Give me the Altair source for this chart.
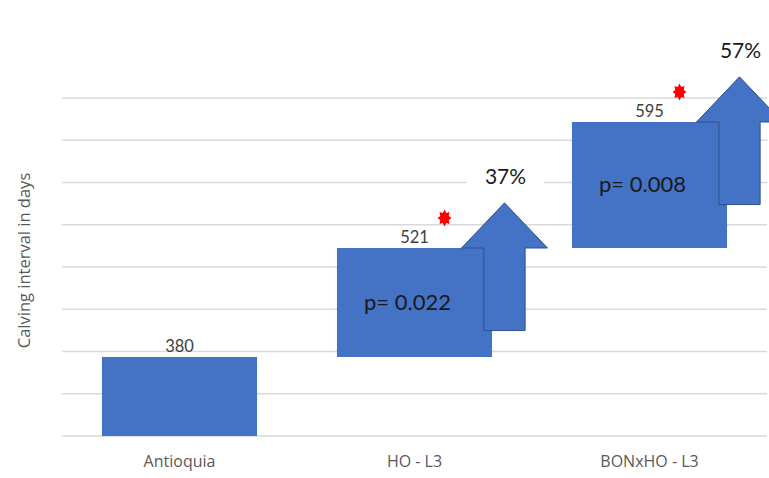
import math

import altair as alt
import pandas as pd

# Calving interval (days) by group
categories = ["Antioquia", "HO - L3", "BONxHO - L3"]
interval_days = [380, 521, 595]
p_values = ["", "p= 0.022", "p= 0.008"]
significant = [False, True, True]

BLUE = "#4472C4"
BLUE_EDGE = "#2F528F"
GRID = "#D9D9D9"

# Waterfall steps: each group's box spans from the previous group's interval
starts = [0] + interval_days[:-1]
base_days = interval_days[0]
increase = [round((v / base_days - 1) * 100) for v in interval_days]

df = pd.DataFrame({
    "category": categories,
    "days": interval_days,
    "start": starts,
    "p": p_values,
    "significant": significant,
    "increase": [f"{i}%" if i > 0 else "" for i in increase],
})
df["mid"] = (df["start"] + df["days"]) / 2
steps = df[df["increase"] != ""]
stars = df[df["significant"]]

grid_df = pd.DataFrame({"level": list(range(9))})

# Piecewise-linear value axis (stretched between groups)
y_scale = alt.Scale(domain=[0] + interval_days, range=[338, 259, 150, 24],
                    nice=False, zero=False)

x_enc = alt.X(
    "category:N", sort=categories,
    scale=alt.Scale(paddingInner=0.34, paddingOuter=0.17),
    axis=alt.Axis(title=None, labelAngle=0, labelFont="Open Sans",
                  labelFontSize=16, labelColor="#595959", labelPadding=17,
                  ticks=False, domain=False, grid=False),
)


def star_path(points=8, inner=0.66, stretch=1.2):
    parts = []
    for k in range(points * 2):
        r = 1.0 if k % 2 == 0 else inner
        a = math.pi * k / points - math.pi / 2
        parts.append(f"{r * math.cos(a):.3f},{r * math.sin(a) * stretch:.3f}")
    return "M" + " L".join(parts) + " Z"


# Block arrow: head base at the anchor point, shaft hanging below it
ARROW = "M0,-1.05 L1,0 L0.48,0 L0.48,1.92 L-0.48,1.92 L-0.48,0 L-1,0 Z"
LABEL_BOX = "M-1,-0.3 L1,-0.3 L1,0.3 L-1,0.3 Z"

grid = alt.Chart(grid_df).mark_rule(color=GRID, strokeWidth=1.5).encode(
    y=alt.Y("level:Q", scale=alt.Scale(domain=[0, 8], nice=False, zero=False),
            axis=alt.Axis(title="Calving interval in days", labels=False,
                          ticks=False, domain=False, grid=False,
                          titleFont="Open Sans", titleFontSize=16.5,
                          titleColor="#595959", titleFontWeight="normal",
                          titlePadding=30, titleY=162))
)

y_days = alt.Y("days:Q", scale=y_scale, axis=None)

label_bg = alt.Chart(steps).mark_point(
    shape=LABEL_BOX, size=5929, filled=True, fill="white", opacity=1,
    strokeWidth=0, xOffset=91, yOffset=-70,
).encode(x=x_enc, y=y_days)

boxes = alt.Chart(df).mark_bar(color=BLUE).encode(
    x=x_enc, y=y_days, y2="start:Q"
)

arrows = alt.Chart(steps).mark_point(
    shape=ARROW, size=7396, filled=True, fill=BLUE, stroke=BLUE_EDGE,
    strokeWidth=1, opacity=1, xOffset=90,
).encode(x=x_enc, y=y_days)

star_marks = alt.Chart(stars).mark_point(
    shape=star_path(), size=196, filled=True, fill="#FF0000", opacity=1,
    strokeWidth=0, xOffset=30, yOffset=-30,
).encode(x=x_enc, y=y_days)

value_labels = alt.Chart(df).mark_text(
    baseline="bottom", dy=-2, font="Lato", fontSize=16.5, color="#404040"
).encode(x=x_enc, y=y_days, text="days:Q")

p_labels = alt.Chart(steps).mark_text(
    font="Lato", fontSize=22, color="#1A1A1A", xOffset=-7, baseline="middle"
).encode(x=x_enc, y=alt.Y("mid:Q", scale=y_scale, axis=None), text="p:N")

pct_labels = alt.Chart(steps).mark_text(
    font="Lato", fontSize=21, color="#1A1A1A", xOffset=91, dy=-70,
    baseline="middle"
).encode(x=x_enc, y=y_days, text="increase:N")

chart = alt.layer(
    grid, label_bg, boxes, arrows, star_marks, value_labels, p_labels, pct_labels
).resolve_scale(y="independent").properties(
    width=705,
    height=338,
    autosize=alt.AutoSizeParams(type="none"),
    padding={"left": 62, "top": 98, "right": 2, "bottom": 42},
    background="white",
).configure_view(stroke=None)

chart.save("out.html", embed_options={"renderer": "svg", "actions": False})
